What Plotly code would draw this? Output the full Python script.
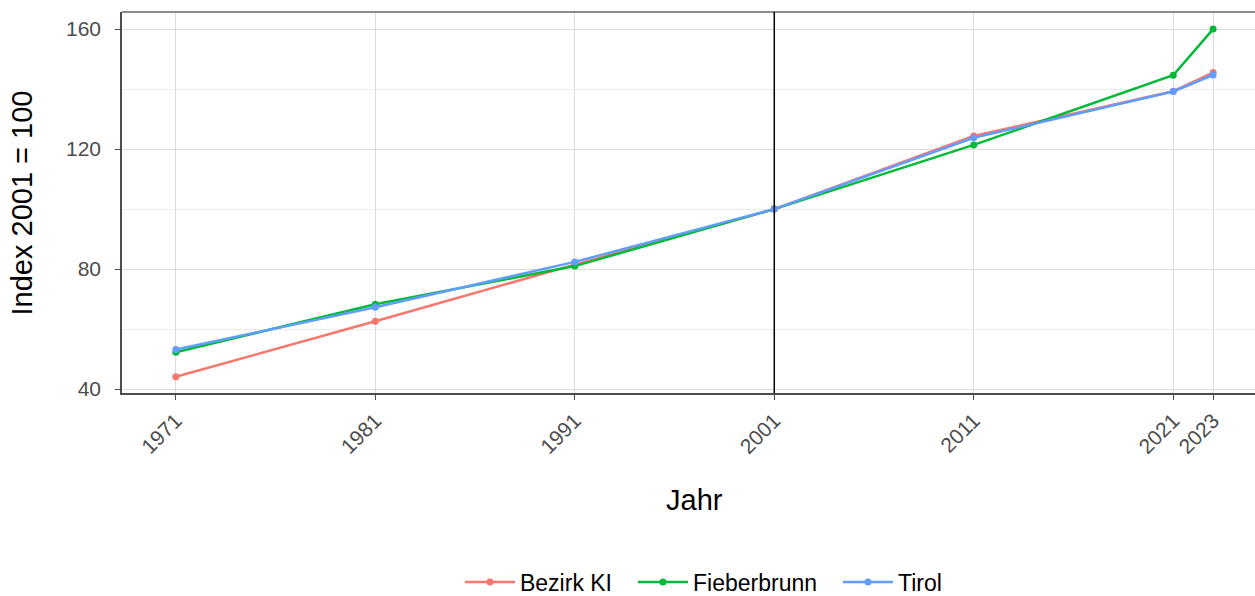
import plotly.graph_objects as go

years = [1971, 1981, 1991, 2001, 2011, 2021, 2023]
bezirk_ki = [44.1, 62.6, 81.5, 100.0, 124.4, 139.3, 145.5]
fieberbrunn = [52.3, 68.3, 81.0, 100.0, 121.4, 144.6, 160.0]
tirol = [53.2, 67.3, 82.4, 100.0, 123.8, 139.2, 144.7]

series_names = ["Bezirk KI", "Fieberbrunn", "Tirol"]
series_values = [bezirk_ki, fieberbrunn, tirol]
colors = ["#F8766D", "#00BA38", "#619CFF"]

y_ticks = [40, 80, 120, 160]
y_minor = [60, 100, 140]
x_tick_labels = [str(y) for y in years]
ref_year = 2001

legend_ids = ["legend", "legend2", "legend3"]
legend_x = [0.2983, 0.4510, 0.6319]

fig = go.Figure()

for name, vals, col, lid in zip(series_names, series_values, colors, legend_ids):
    fig.add_trace(go.Scatter(
        x=years, y=vals, name=name, mode="lines+markers",
        line=dict(color=col, width=2.5),
        marker=dict(color=col, size=7),
        legend=lid,
    ))

legend_common = dict(orientation="h", xanchor="left", yref="container",
                     y=1 - 582 / 596, yanchor="middle",
                     font=dict(size=23, color="black"), itemwidth=50,
                     bgcolor="rgba(0,0,0,0)")

fig.update_layout(
    width=1255, height=596,
    paper_bgcolor="white", plot_bgcolor="white",
    margin=dict(l=122, r=0, t=12, b=203),
    font=dict(family="Liberation Sans, Arial, sans-serif", color="#4d4d4d", size=21),
    showlegend=True,
    legend=dict(x=legend_x[0], **legend_common),
    legend2=dict(x=legend_x[1], **legend_common),
    legend3=dict(x=legend_x[2], **legend_common),
    xaxis=dict(
        range=[1968.3, 2025.1], tickmode="array", tickvals=years, ticktext=x_tick_labels,
        tickangle=-45, showgrid=True, gridcolor="#dcdcdc", gridwidth=1,
        zeroline=False, showline=True, linecolor="#4d4d4d", linewidth=2, mirror=False,
        ticks="outside", ticklen=5, tickcolor="#4d4d4d", tickfont=dict(size=21, color="#4d4d4d"),
        automargin=False,
    ),
    yaxis=dict(
        range=[38.7, 165.7], tickmode="array", tickvals=y_ticks,
        showgrid=True, gridcolor="#dcdcdc", gridwidth=1,
        minor=dict(tickvals=y_minor, showgrid=True, gridcolor="#ebebeb", gridwidth=1, ticks=""),
        zeroline=False, showline=True, linecolor="#4d4d4d", linewidth=1.5,
        ticks="outside", ticklen=5, tickcolor="#4d4d4d", tickfont=dict(size=21, color="#4d4d4d"),
        ticklabelstandoff=10, automargin=False,
    ),
    shapes=[
        dict(type="line", xref="paper", yref="paper", x0=0, x1=1, y0=1, y1=1,
             line=dict(color="#8c8c8c", width=2)),
        dict(type="line", xref="x", yref="paper", x0=ref_year, x1=ref_year, y0=0, y1=1,
             line=dict(color="black", width=1.5), layer="above"),
    ],
    annotations=[
        dict(text="Jahr", xref="paper", yref="paper", x=0.5057, y=-0.281, yanchor="middle",
             xanchor="center", showarrow=False, font=dict(size=29, color="black")),
        dict(text="Index 2001 = 100", xref="paper", yref="paper", x=-0.0883, y=0.5,
             xanchor="center", yanchor="middle", textangle=-90, showarrow=False,
             font=dict(size=29, color="black")),
    ],
)

fig.write_html(
    "out.html",
    config={"displayModeBar": False},
    post_script="document.body.style.margin='0px';document.body.style.overflow='hidden';",
)
